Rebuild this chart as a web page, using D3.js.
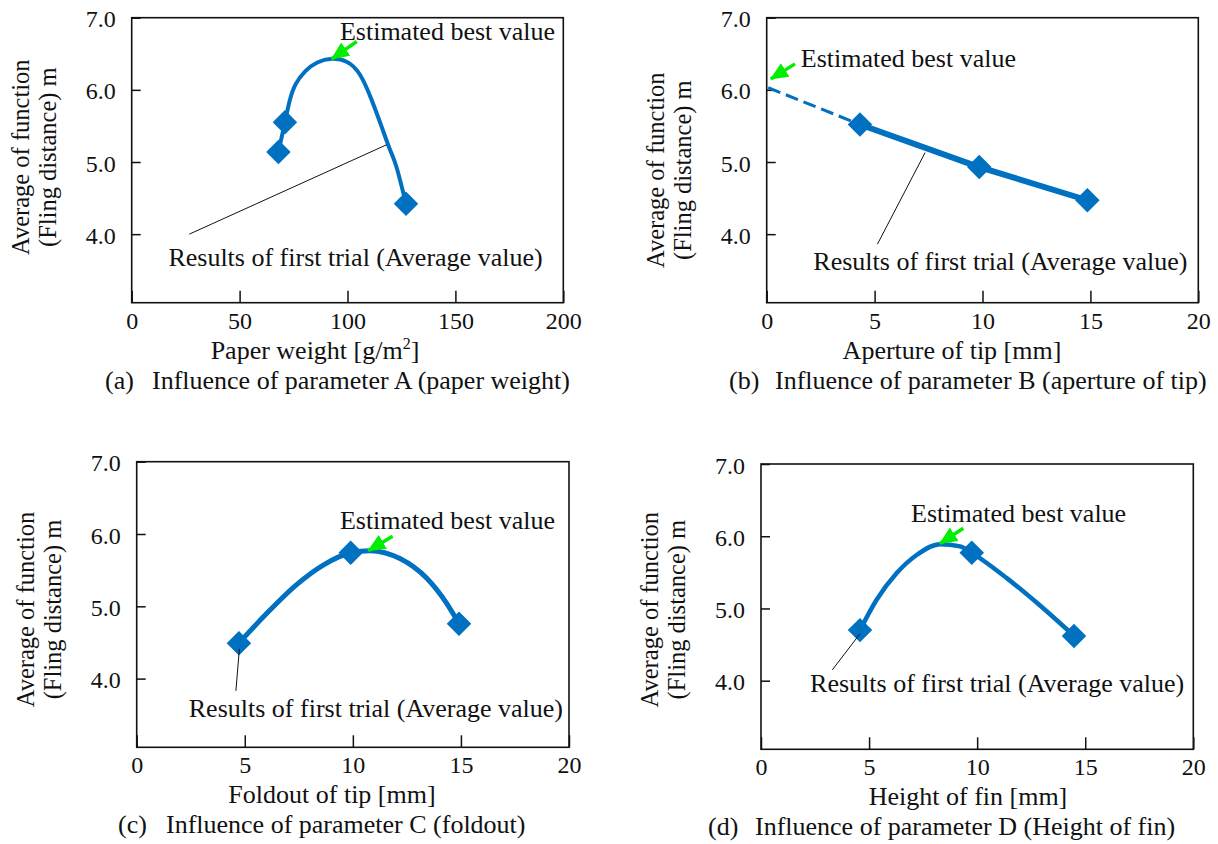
<!DOCTYPE html>
<html>
<head>
<meta charset="utf-8">
<script src="https://cdn.jsdelivr.net/npm/d3@7/dist/d3.min.js"></script>
<style>
  body { margin: 0; background: #fff; }
  svg { display: block; }
</style>
</head>
<body>
<svg id="chart"></svg>
<script>
// ---- DATA ----

// (a) paper weight
const paperWeight = [68, 71, 127.1];
const paperDist = [5.14, 5.55, 4.42];
const paperCurveX = [68, 71, 73.2, 76, 80.5, 86, 92.7, 99.6, 105.8, 111.2, 115.8, 119.7, 122.8, 127.1];
const paperCurveY = [5.14, 5.55, 5.85, 6.08, 6.26, 6.38, 6.43, 6.39, 6.21, 5.86, 5.49, 5.17, 4.92, 4.42];
const paperBest = [92.7, 6.43];

// (b) aperture of tip
const aperture = [4.32, 9.85, 14.86];
const apertureDist = [5.52, 4.93, 4.47];
const apertureDashX = [0.07, 4.32];
const apertureDashY = [6.03, 5.52];
const apertureBest = [0.19, 6.15];

// (c) foldout of tip
const foldout = [4.73, 9.9, 14.91];
const foldoutDist = [4.49, 5.74, 4.76];
const foldoutCurveX = [4.73, 6.01, 7.4, 8.63, 9.9, 10.79, 12.18, 13.41, 14.34, 14.91];
const foldoutCurveY = [4.49, 4.9, 5.3, 5.57, 5.74, 5.77, 5.66, 5.39, 5.04, 4.76];
const foldoutBest = [10.71, 5.77];

// (d) height of fin
const finHeight = [4.58, 9.75, 14.48];
const finDist = [4.7, 5.77, 4.62];
const finCurveX = [4.58, 5.35, 6.28, 7.2, 8.28, 9.21, 9.75, 11.37, 12.91, 14.48];
const finCurveY = [4.7, 5.12, 5.49, 5.74, 5.89, 5.86, 5.77, 5.42, 5.04, 4.62];
const finBest = [8.28, 5.9];

// axes
const yTicks = [4, 5, 6, 7];
const yDomain = [3.05, 7];
const paperTicks = [0, 50, 100, 150, 200];
const mmTicks = [0, 5, 10, 15, 20];

const yTitle = ["Average of function", "(Fling distance) m"];
const bestLabel = "Estimated best value";
const resultLabel = "Results of first trial (Average value)";

// ---- LAYOUT ----
const W = 1218, H = 844;
const FONT = '"Liberation Serif", "Times New Roman", serif';
const BLUE = "#0070c0";
const GREEN = "#00ee00";
const TEXT_SIZE = 26;

const zip = (a, b) => a.map((v, i) => [v, b[i]]);

const panels = [
  {
    box: [131.7, 17.7, 563.3, 302.7], xDomain: [0, 200], xTicks: paperTicks, yTitleDy: -3,
    xTitle: "Paper weight [g/m", xSup: "2", xTitleEnd: "]", xTitleX: 315,
    tag: "(a)", caption: "Influence of parameter A (paper weight)", tagX: 105, capX: 152,
    points: zip(paperWeight, paperDist), curve: zip(paperCurveX, paperCurveY),
    curveType: d3.curveNatural, lw: 4,
    best: paperBest, arrowFrom: [104.3, 6.67], bestText: [96.5, 6.69],
    leader: [[118.2, 5.24], [26.7, 4.0]], resText: [17, 3.56]
  },
  {
    box: [766.7, 17.7, 1198.3, 302.7], xDomain: [0, 20], xTicks: mmTicks, yTitleDy: 10,
    xTitle: "Aperture of tip [mm]", xTitleX: 952,
    tag: "(b)", caption: "Influence of parameter B (aperture of tip)", tagX: 729, capX: 775,
    points: zip(aperture, apertureDist), curve: zip(aperture, apertureDist),
    curveType: d3.curveLinear, lw: 6,
    dash: zip(apertureDashX, apertureDashY),
    best: apertureBest, arrowFrom: [1.31, 6.36], bestText: [1.58, 6.31],
    leader: [[7.34, 5.13], [5.13, 3.86]], resText: [2.16, 3.51]
  },
  {
    box: [136.7, 461.7, 569, 747.3], xDomain: [0, 20], xTicks: mmTicks, yTitleDy: 5,
    xTitle: "Foldout of tip [mm]", xTitleX: 332,
    tag: "(c)", caption: "Influence of parameter C (foldout)", tagX: 118, capX: 166,
    points: zip(foldout, foldoutDist), curve: zip(foldoutCurveX, foldoutCurveY),
    curveType: d3.curveMonotoneX, lw: 5,
    best: foldoutBest, arrowFrom: [11.84, 5.97], bestText: [9.4, 6.07],
    leader: [[4.75, 4.41], [4.59, 3.83]], resText: [2.41, 3.47]
  },
  {
    box: [761, 464, 1193.3, 749.3], xDomain: [0, 20], xTicks: mmTicks, yTitleDy: 3,
    xTitle: "Height of fin [mm]", xTitleX: 968,
    tag: "(d)", caption: "Influence of parameter D (Height of fin)", tagX: 708, capX: 755,
    points: zip(finHeight, finDist), curve: zip(finCurveX, finCurveY),
    curveType: d3.curveMonotoneX, lw: 4.5,
    best: finBest, arrowFrom: [9.36, 6.11], bestText: [6.94, 6.2],
    leader: [[4.58, 4.65], [3.3, 4.15]], resText: [2.27, 3.84]
  }
];

const svg = d3.select("#chart").attr("width", W).attr("height", H)
  .style("font-family", FONT);

svg.append("rect").attr("width", W).attr("height", H).attr("fill", "#fff");

// green arrow head
svg.append("defs").append("marker")
  .attr("id", "arrowHead")
  .attr("markerUnits", "userSpaceOnUse")
  .attr("viewBox", "0 0 18 16")
  .attr("markerWidth", 18).attr("markerHeight", 16)
  .attr("refX", 17).attr("refY", 8)
  .attr("orient", "auto")
  .append("path")
  .attr("d", "M0,0 L18,8 L0,16 Z")
  .attr("fill", GREEN);

function drawPanel(p) {
  const [L, T, R, B] = p.box;
  const g = svg.append("g");

  const x = d3.scaleLinear().domain(p.xDomain).range([L, R]);
  const y = d3.scaleLinear().domain(yDomain).range([B, T]);

  // x axis (ticks pointing inward)
  const xAxis = g.append("g")
    .attr("transform", `translate(0,${B})`)
    .call(d3.axisBottom(x).tickValues(p.xTicks).tickSize(-12).tickPadding(9));
  xAxis.select(".domain").remove();
  xAxis.selectAll("line").attr("stroke", "#111").attr("stroke-width", 1.5);
  xAxis.selectAll("text").attr("font-family", FONT).attr("font-size", 24).attr("fill", "#111");

  const yAxis = g.append("g")
    .attr("transform", `translate(${L},0)`)
    .call(d3.axisLeft(y).tickValues(yTicks).tickFormat(d3.format(".1f")).tickSize(-9).tickPadding(16));
  yAxis.select(".domain").remove();
  yAxis.selectAll("line").attr("stroke", "#111").attr("stroke-width", 1.5);
  yAxis.selectAll("text").attr("font-family", FONT).attr("font-size", 24).attr("fill", "#111")
    .attr("dy", "0.38em");

  // plot frame
  g.append("rect")
    .attr("x", L).attr("y", T).attr("width", R - L).attr("height", B - T)
    .attr("fill", "none").attr("stroke", "#111").attr("stroke-width", 1.6);

  // y title (two rotated lines)
  const cy = (T + B) / 2 + p.yTitleDy;
  yTitle.forEach((t, i) => {
    g.append("text")
      .attr("transform", `translate(${L - 103 + i * 27},${cy}) rotate(-90)`)
      .attr("text-anchor", "middle")
      .attr("font-size", 24.5).attr("fill", "#111")
      .text(t);
  });

  // x title
  const xt = g.append("text")
    .attr("x", p.xTitleX).attr("y", B + 56)
    .attr("text-anchor", "middle")
    .attr("font-size", TEXT_SIZE).attr("fill", "#111");
  xt.append("tspan").text(p.xTitle);
  if (p.xSup) {
    xt.append("tspan").attr("font-size", 16).attr("dy", -10).text(p.xSup);
    xt.append("tspan").attr("dy", 10).text(p.xTitleEnd);
  }

  // caption
  g.append("text").attr("x", p.tagX).attr("y", B + 86)
    .attr("font-size", TEXT_SIZE).attr("fill", "#111").text(p.tag);
  g.append("text").attr("x", p.capX).attr("y", B + 86)
    .attr("font-size", TEXT_SIZE).attr("fill", "#111").text(p.caption);

  // dashed extrapolation
  if (p.dash) {
    g.append("path")
      .attr("d", d3.line().x(d => x(d[0])).y(d => y(d[1]))(p.dash))
      .attr("fill", "none").attr("stroke", BLUE)
      .attr("stroke-width", 3).attr("stroke-dasharray", "13,6");
  }

  // main line / curve
  const line = d3.line()
    .x(d => x(d[0])).y(d => y(d[1]))
    .curve(p.curveType);
  g.append("path")
    .attr("d", line(p.curve))
    .attr("fill", "none").attr("stroke", BLUE)
    .attr("stroke-width", p.lw).attr("stroke-linejoin", "round");

  // diamond markers
  g.selectAll(".pt")
    .data(p.points)
    .enter()
    .append("path")
    .attr("class", "pt")
    .attr("d", d3.symbol().type(d3.symbolSquare).size(300))
    .attr("transform", d => `translate(${x(d[0])},${y(d[1])}) rotate(45)`)
    .attr("fill", BLUE);

  // leader line to result label
  g.append("line")
    .attr("x1", x(p.leader[0][0])).attr("y1", y(p.leader[0][1]))
    .attr("x2", x(p.leader[1][0])).attr("y2", y(p.leader[1][1]))
    .attr("stroke", "#111").attr("stroke-width", 1);

  g.append("text")
    .attr("x", x(p.resText[0])).attr("y", y(p.resText[1]))
    .attr("font-size", TEXT_SIZE).attr("fill", "#111")
    .text(resultLabel);

  // estimated best value arrow + label
  g.append("line")
    .attr("x1", x(p.arrowFrom[0])).attr("y1", y(p.arrowFrom[1]))
    .attr("x2", x(p.best[0])).attr("y2", y(p.best[1]))
    .attr("stroke", GREEN).attr("stroke-width", 3.5)
    .attr("marker-end", "url(#arrowHead)");

  g.append("text")
    .attr("x", x(p.bestText[0])).attr("y", y(p.bestText[1]))
    .attr("font-size", TEXT_SIZE).attr("fill", "#111")
    .text(bestLabel);
}

panels.forEach(drawPanel);
</script>
</body>
</html>
